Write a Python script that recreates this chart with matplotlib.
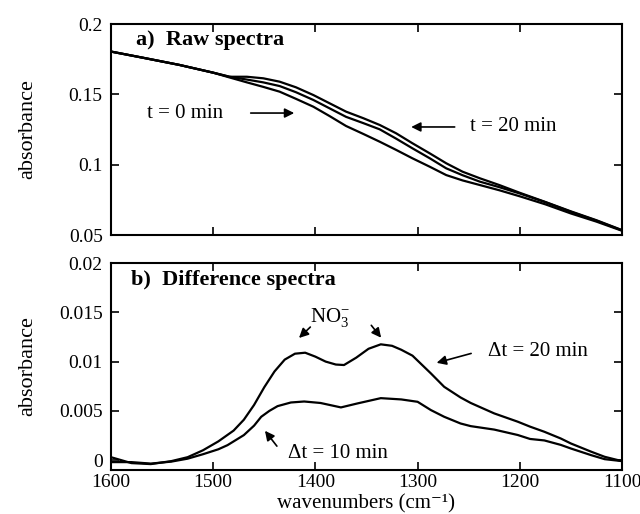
import matplotlib
matplotlib.use("Agg")
import matplotlib.pyplot as plt

plt.rcParams['font.family'] = ['Liberation Serif', 'DejaVu Serif']
plt.rcParams['mathtext.fontset'] = 'custom'
plt.rcParams['mathtext.rm'] = 'Liberation Serif'
plt.rcParams['mathtext.it'] = 'Liberation Serif:italic'

# ---- panel a: raw spectra ----
wn_raw = [1600, 1570, 1533, 1500, 1484, 1467, 1451, 1435, 1419, 1402, 1386, 1370, 1353,
          1337, 1321, 1305, 1288, 1272, 1256, 1239, 1220, 1200, 1175, 1150, 1125, 1100]
raw_t20 = [0.1804, 0.1762, 0.1709, 0.1654, 0.1625, 0.1625, 0.1614, 0.1590, 0.1550, 0.1495,
           0.1436, 0.1377, 0.1330, 0.1282, 0.1223, 0.1152, 0.1080, 0.1010, 0.0950, 0.0903,
           0.0855, 0.0800, 0.0735, 0.0668, 0.0605, 0.0535]
raw_t10 = [0.1804, 0.1762, 0.1709, 0.1654, 0.1625, 0.1605, 0.1585, 0.1559, 0.1515, 0.1460,
           0.1400, 0.1340, 0.1295, 0.1251, 0.1185, 0.1116, 0.1045, 0.0974, 0.0925, 0.0879,
           0.0840, 0.0795, 0.0733, 0.0665, 0.0602, 0.0533]
raw_t0 = [0.1804, 0.1762, 0.1709, 0.1654, 0.1620, 0.1585, 0.1553, 0.1519, 0.1468, 0.1412,
          0.1345, 0.1275, 0.1218, 0.1163, 0.1105, 0.1045, 0.0985, 0.0926, 0.0888, 0.0855,
          0.0818, 0.0775, 0.0718, 0.0653, 0.0595, 0.0530]

# ---- panel b: difference spectra (x 0.001) ----
wn_d20 = [1600, 1590, 1580, 1561, 1541, 1525, 1510, 1495, 1480, 1470, 1460, 1450, 1440,
          1430, 1420, 1410, 1400, 1390, 1380, 1372, 1360, 1348, 1336, 1325, 1316, 1305,
          1295, 1287, 1274, 1258, 1248, 1235, 1225, 1202, 1190, 1176, 1160, 1150, 1130,
          1117, 1100]
diff_20 = [0.3, 0.0, -0.3, -0.4, -0.1, 0.3, 1.0, 1.9, 3.0, 4.1, 5.6, 7.4, 9.0,
           10.2, 10.8, 10.9, 10.5, 10.0, 9.7, 9.65, 10.4, 11.3, 11.75, 11.6, 11.2, 10.6,
           9.6, 8.8, 7.44, 6.36, 5.8, 5.2, 4.74, 3.9, 3.4, 2.88, 2.2, 1.69, 0.85,
           0.34, -0.1]
wn_d10 = [1600, 1580, 1561, 1541, 1525, 1510, 1495, 1486, 1470, 1460, 1453, 1445, 1437,
          1424, 1411, 1395, 1375, 1359, 1336, 1316, 1300, 1287, 1274, 1258, 1248, 1225,
          1202, 1190, 1176, 1160, 1150, 1130, 1117, 1100]
diff_10 = [-0.2, -0.2, -0.35, -0.15, 0.15, 0.6, 1.1, 1.52, 2.54, 3.5, 4.4, 5.0, 5.48,
           5.85, 5.95, 5.8, 5.35, 5.75, 6.29, 6.16, 5.92, 5.08, 4.4, 3.72, 3.45, 3.1,
           2.55, 2.15, 2.0, 1.55, 1.18, 0.5, 0.1, -0.1]

xticks = [1600, 1500, 1400, 1300, 1200, 1100]
yticks_a = [0.05, 0.1, 0.15, 0.2]
yticks_a_lab = ['0.05', '0.1', '0.15', '0.2']
yticks_b = [0, 0.005, 0.01, 0.015, 0.02]
yticks_b_lab = ['0', '0.005', '0.01', '0.015', '0.02']

fig = plt.figure(figsize=(6.4, 5.14), dpi=100)
ax1 = fig.add_axes([0.1734, 0.5428, 0.7985, 0.4105])
ax2 = fig.add_axes([0.1734, 0.0856, 0.7985, 0.4027])

lw = 1.6
for y in (raw_t0, raw_t10, raw_t20):
    ax1.plot(wn_raw, y, color='black', lw=lw)
ax2.plot(wn_d20, [v / 1000 for v in diff_20], color='black', lw=lw)
ax2.plot(wn_d10, [v / 1000 for v in diff_10], color='black', lw=lw)

for ax in (ax1, ax2):
    ax.set_xlim(1600, 1100)
    ax.set_xticks(xticks)
    ax.tick_params(direction='in', top=True, right=True, length=6, width=1.2,
                   labelsize=14, pad=6)
    for s in ax.spines.values():
        s.set_linewidth(1.5)
ax2.tick_params(axis='x', pad=3)

ax1.set_ylabel('absorbance', fontsize=16)
ax2.set_ylabel('absorbance', fontsize=16)
ax1.yaxis.set_label_coords(-0.145, 0.5)
ax2.yaxis.set_label_coords(-0.145, 0.5)

ax1.set_ylim(0.05, 0.2)
ax1.set_yticks(yticks_a)
ax1.set_yticklabels(yticks_a_lab)
ax1.tick_params(labelbottom=False)

ax2.set_ylim(-0.001, 0.02)
ax2.set_yticks(yticks_b)
ax2.set_yticklabels(yticks_b_lab)
ax2.set_xticklabels([str(v) for v in xticks])
ax2.set_xlabel('wavenumbers (cm\u207B\u00B9)', fontsize=15,
               family=['Liberation Serif', 'DejaVu Serif'])
ax2.xaxis.label.set_va('bottom')
ax2.xaxis.set_label_coords(0.5, -0.21)

arrow = dict(arrowstyle='-|>', color='black', lw=1.2, mutation_scale=14)

# annotations panel a
ax1.text(1576, 0.1886, 'a)  Raw spectra', fontsize=16, fontweight='bold', va='center', ha='left')
ax1.text(1565, 0.1367, 't = 0 min', fontsize=15, va='center', ha='left')
ax1.annotate('', xy=(1418, 0.1367), xytext=(1466, 0.1367), arrowprops=arrow)
ax1.text(1249, 0.1268, 't = 20 min', fontsize=15, va='center', ha='left')
ax1.annotate('', xy=(1309, 0.1268), xytext=(1261, 0.1268), arrowprops=arrow)

# annotations panel b
ax2.text(1580, 0.0183, 'b)  Difference spectra', fontsize=16, fontweight='bold',
         va='center', ha='left')
ax2.text(1386, 0.0145, 'NO$_{\\mathregular{3}}^{\\mathregular{-}}$', fontsize=15,
         va='center', ha='center')
ax2.annotate('', xy=(1418, 0.0122), xytext=(1403, 0.0137), arrowprops=arrow)
ax2.annotate('', xy=(1334, 0.0122), xytext=(1347, 0.0139), arrowprops=arrow)
ax2.text(1231, 0.0110, '\u0394t = 20 min', fontsize=15, va='center', ha='left')
ax2.annotate('', xy=(1284, 0.0098), xytext=(1245, 0.0109), arrowprops=arrow)
ax2.text(1427, 0.0007, '\u0394t = 10 min', fontsize=15, va='center', ha='left')
ax2.annotate('', xy=(1451, 0.0032), xytext=(1436, 0.0012), arrowprops=arrow)

fig.savefig('out.png', dpi=100)
